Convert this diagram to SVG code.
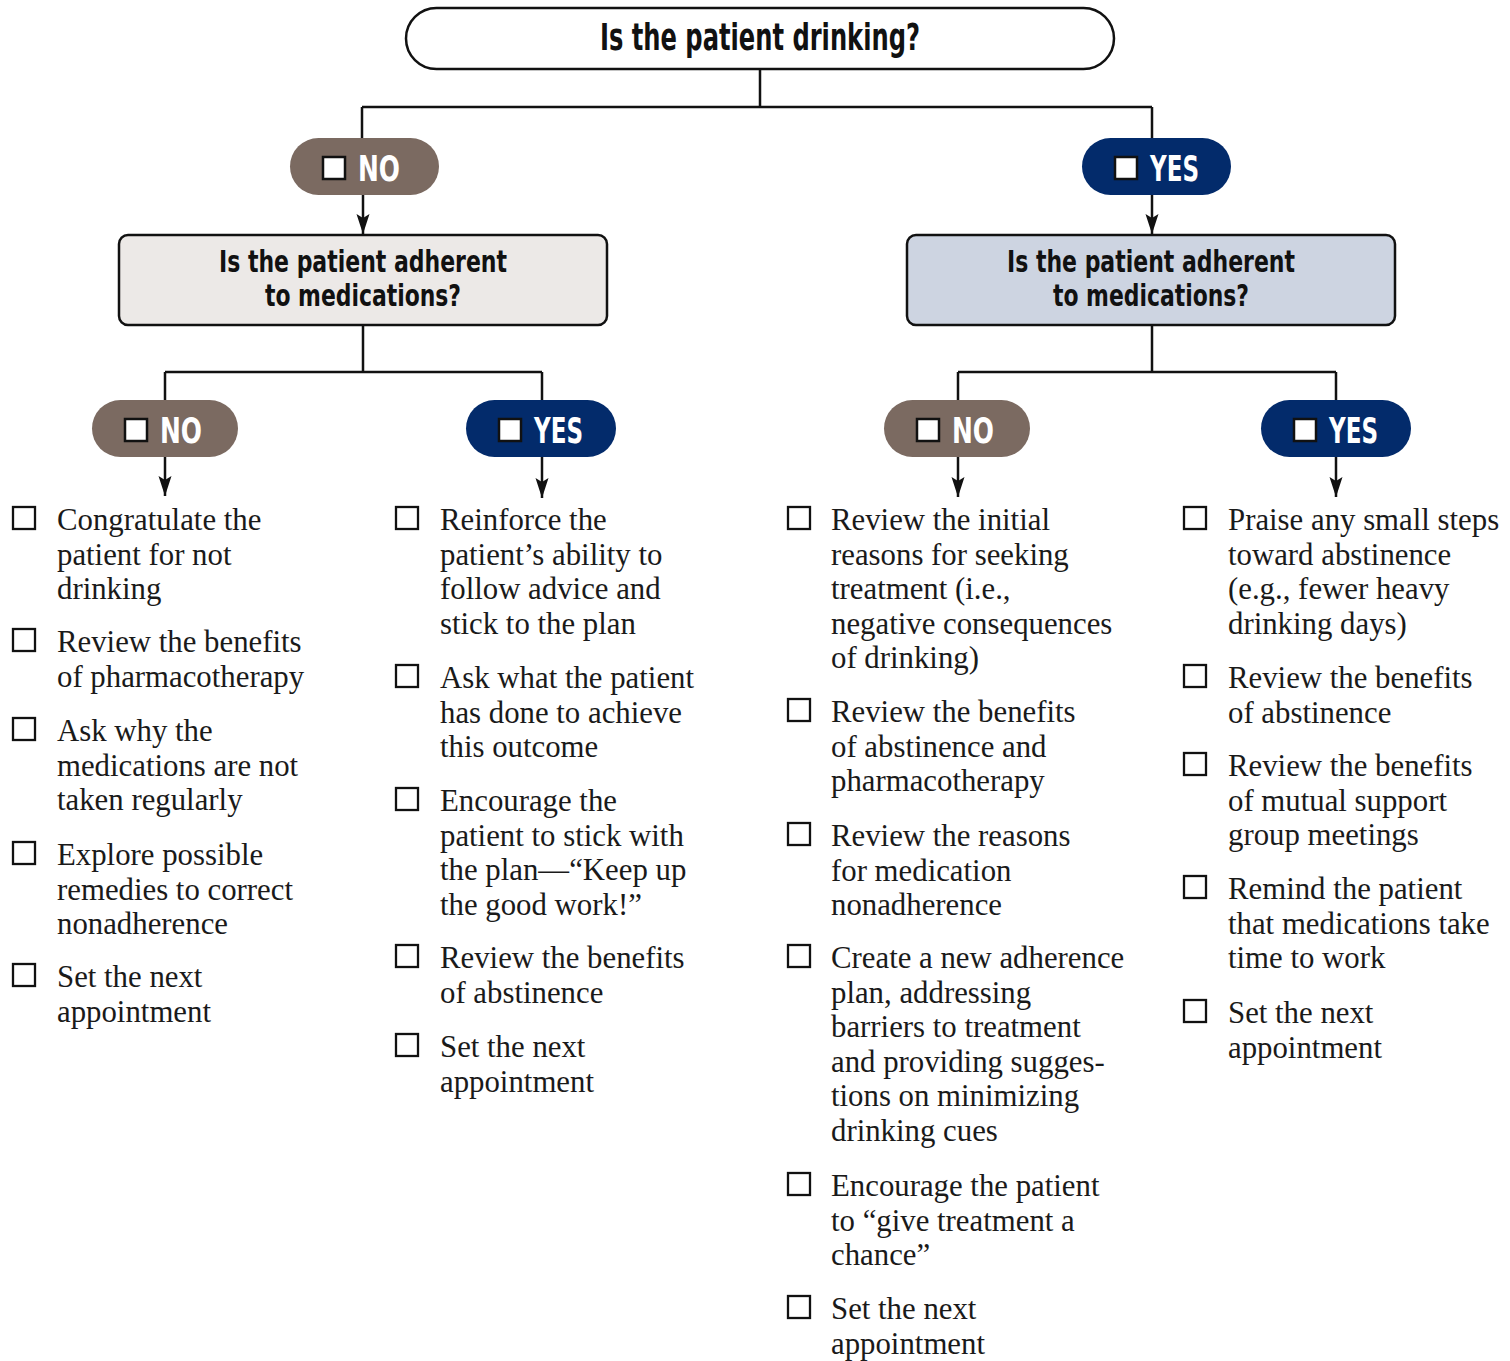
<svg xmlns="http://www.w3.org/2000/svg" width="1510" height="1361" viewBox="0 0 1510 1361">
<defs>
<style>
.q{fill:#fff;stroke:#111;stroke-width:2.5}
.qa{fill:#ece9e7;stroke:#111;stroke-width:2.5}
.qb{fill:#cdd4e1;stroke:#111;stroke-width:2.5}
.hd{font-family:"DejaVu Sans Condensed","DejaVu Sans","Liberation Sans",sans-serif;font-weight:bold;font-stretch:condensed;fill:#111}
.no{fill:#7b6a61}
.yes{fill:#032b6b}
.pt{font-family:"DejaVu Sans Condensed","DejaVu Sans","Liberation Sans",sans-serif;font-weight:bold;font-size:36px;fill:#fff}
.pcb{fill:#fff;stroke:#111;stroke-width:2.5}
.cb{fill:#fff;stroke:#111;stroke-width:2.3}
.bt{font-family:"Liberation Serif","Times New Roman",serif;font-size:30.8px;fill:#1a1a1a}
.ln{fill:none;stroke:#111;stroke-width:2.5}
</style>
<marker id="ah" markerWidth="22" markerHeight="16" viewBox="-20 -8 22 16" refX="0" refY="0" orient="auto" markerUnits="userSpaceOnUse">
<path d="M0,0 L-20,-6.5 L-16,0 L-20,6.5 Z" fill="#111"/>
</marker>
</defs>
<rect width="1510" height="1361" fill="#fff"/>

<g id="connectors">
<path class="ln" d="M760,69 V107 M362,107 H1152 M362,107 V138 M1152,107 V138"/>
<path class="ln" d="M363,195 V234" marker-end="url(#ah)"/>
<path class="ln" d="M1152,195 V234" marker-end="url(#ah)"/>
<path class="ln" d="M363,325 V372 M165,372 H542 M165,372 V400 M542,372 V400"/>
<path class="ln" d="M1152,325 V372 M958,372 H1336 M958,372 V400 M1336,372 V400"/>
<path class="ln" d="M165,457 V496" marker-end="url(#ah)"/>
<path class="ln" d="M542,457 V498" marker-end="url(#ah)"/>
<path class="ln" d="M958,457 V497" marker-end="url(#ah)"/>
<path class="ln" d="M1336,457 V497" marker-end="url(#ah)"/>
</g>

<g id="q-drinking">
<rect class="q" x="406" y="8" width="708" height="61" rx="30.5"/>
<text class="hd" x="760" y="50" font-size="38" text-anchor="middle" textLength="320" lengthAdjust="spacingAndGlyphs">Is the patient drinking?</text>
</g>

<g id="p-no-top">
<rect class="no" x="290" y="138" width="149" height="57" rx="28.5"/>
<rect class="pcb" x="323" y="157" width="22" height="22"/>
<text class="pt" x="358" y="181" textLength="42" lengthAdjust="spacingAndGlyphs">NO</text>
</g>

<g id="p-yes-top">
<rect class="yes" x="1082" y="138" width="149" height="57" rx="28.5"/>
<rect class="pcb" x="1115" y="157" width="22" height="22"/>
<text class="pt" x="1150" y="181" textLength="49" lengthAdjust="spacingAndGlyphs">YES</text>
</g>

<g id="q-adherent-no">
<rect class="qa" x="119" y="235" width="488" height="90" rx="9"/>
<text class="hd" x="363" y="272" font-size="31" text-anchor="middle" textLength="288" lengthAdjust="spacingAndGlyphs">Is the patient adherent</text>
<text class="hd" x="363" y="306" font-size="31" text-anchor="middle" textLength="196" lengthAdjust="spacingAndGlyphs">to medications?</text>
</g>

<g id="q-adherent-yes">
<rect class="qb" x="907" y="235" width="488" height="90" rx="9"/>
<text class="hd" x="1151" y="272" font-size="31" text-anchor="middle" textLength="288" lengthAdjust="spacingAndGlyphs">Is the patient adherent</text>
<text class="hd" x="1151" y="306" font-size="31" text-anchor="middle" textLength="196" lengthAdjust="spacingAndGlyphs">to medications?</text>
</g>

<g id="p-no-no">
<rect class="no" x="92" y="400" width="146" height="57" rx="28.5"/>
<rect class="pcb" x="125" y="419" width="22" height="22"/>
<text class="pt" x="160" y="443" textLength="42" lengthAdjust="spacingAndGlyphs">NO</text>
</g>

<g id="p-no-yes">
<rect class="yes" x="466" y="400" width="150" height="57" rx="28.5"/>
<rect class="pcb" x="499" y="419" width="22" height="22"/>
<text class="pt" x="534" y="443" textLength="49" lengthAdjust="spacingAndGlyphs">YES</text>
</g>

<g id="p-yes-no">
<rect class="no" x="884" y="400" width="146" height="57" rx="28.5"/>
<rect class="pcb" x="917" y="419" width="22" height="22"/>
<text class="pt" x="952" y="443" textLength="42" lengthAdjust="spacingAndGlyphs">NO</text>
</g>

<g id="p-yes-yes">
<rect class="yes" x="1261" y="400" width="150" height="57" rx="28.5"/>
<rect class="pcb" x="1294" y="419" width="22" height="22"/>
<text class="pt" x="1329" y="443" textLength="49" lengthAdjust="spacingAndGlyphs">YES</text>
</g>

<g id="list-no-no">
<rect class="cb" x="13" y="507" width="22" height="22"/>
<text class="bt" x="57" y="530">Congratulate the<tspan x="57" dy="34.6">patient for not</tspan><tspan x="57" dy="34.6">drinking</tspan></text>
<rect class="cb" x="13" y="629" width="22" height="22"/>
<text class="bt" x="57" y="652">Review the benefits<tspan x="57" dy="34.6">of pharmacotherapy</tspan></text>
<rect class="cb" x="13" y="718" width="22" height="22"/>
<text class="bt" x="57" y="741">Ask why the<tspan x="57" dy="34.6">medications are not</tspan><tspan x="57" dy="34.6">taken regularly</tspan></text>
<rect class="cb" x="13" y="842" width="22" height="22"/>
<text class="bt" x="57" y="865">Explore possible<tspan x="57" dy="34.6">remedies to correct</tspan><tspan x="57" dy="34.6">nonadherence</tspan></text>
<rect class="cb" x="13" y="964" width="22" height="22"/>
<text class="bt" x="57" y="987">Set the next<tspan x="57" dy="34.6">appointment</tspan></text>
</g>

<g id="list-no-yes">
<rect class="cb" x="396" y="507" width="22" height="22"/>
<text class="bt" x="440" y="530">Reinforce the<tspan x="440" dy="34.6">patient’s ability to</tspan><tspan x="440" dy="34.6">follow advice and</tspan><tspan x="440" dy="34.6">stick to the plan</tspan></text>
<rect class="cb" x="396" y="665" width="22" height="22"/>
<text class="bt" x="440" y="688">Ask what the patient<tspan x="440" dy="34.6">has done to achieve</tspan><tspan x="440" dy="34.6">this outcome</tspan></text>
<rect class="cb" x="396" y="788" width="22" height="22"/>
<text class="bt" x="440" y="811">Encourage the<tspan x="440" dy="34.6">patient to stick with</tspan><tspan x="440" dy="34.6">the plan—“Keep up</tspan><tspan x="440" dy="34.6">the good work!”</tspan></text>
<rect class="cb" x="396" y="945" width="22" height="22"/>
<text class="bt" x="440" y="968">Review the benefits<tspan x="440" dy="34.6">of abstinence</tspan></text>
<rect class="cb" x="396" y="1034" width="22" height="22"/>
<text class="bt" x="440" y="1057">Set the next<tspan x="440" dy="34.6">appointment</tspan></text>
</g>

<g id="list-yes-no">
<rect class="cb" x="788" y="507" width="22" height="22"/>
<text class="bt" x="831" y="530">Review the initial<tspan x="831" dy="34.6">reasons for seeking</tspan><tspan x="831" dy="34.6">treatment (i.e.,</tspan><tspan x="831" dy="34.6">negative consequences</tspan><tspan x="831" dy="34.6">of drinking)</tspan></text>
<rect class="cb" x="788" y="699" width="22" height="22"/>
<text class="bt" x="831" y="722">Review the benefits<tspan x="831" dy="34.6">of abstinence and</tspan><tspan x="831" dy="34.6">pharmacotherapy</tspan></text>
<rect class="cb" x="788" y="823" width="22" height="22"/>
<text class="bt" x="831" y="846">Review the reasons<tspan x="831" dy="34.6">for medication</tspan><tspan x="831" dy="34.6">nonadherence</tspan></text>
<rect class="cb" x="788" y="945" width="22" height="22"/>
<text class="bt" x="831" y="968">Create a new adherence<tspan x="831" dy="34.6">plan, addressing</tspan><tspan x="831" dy="34.6">barriers to treatment</tspan><tspan x="831" dy="34.6">and providing sugges-</tspan><tspan x="831" dy="34.6">tions on minimizing</tspan><tspan x="831" dy="34.6">drinking cues</tspan></text>
<rect class="cb" x="788" y="1173" width="22" height="22"/>
<text class="bt" x="831" y="1196">Encourage the patient<tspan x="831" dy="34.6">to “give treatment a</tspan><tspan x="831" dy="34.6">chance”</tspan></text>
<rect class="cb" x="788" y="1296" width="22" height="22"/>
<text class="bt" x="831" y="1319">Set the next<tspan x="831" dy="34.6">appointment</tspan></text>
</g>

<g id="list-yes-yes">
<rect class="cb" x="1184" y="507" width="22" height="22"/>
<text class="bt" x="1228" y="530">Praise any small steps<tspan x="1228" dy="34.6">toward abstinence</tspan><tspan x="1228" dy="34.6">(e.g., fewer heavy</tspan><tspan x="1228" dy="34.6">drinking days)</tspan></text>
<rect class="cb" x="1184" y="665" width="22" height="22"/>
<text class="bt" x="1228" y="688">Review the benefits<tspan x="1228" dy="34.6">of abstinence</tspan></text>
<rect class="cb" x="1184" y="753" width="22" height="22"/>
<text class="bt" x="1228" y="776">Review the benefits<tspan x="1228" dy="34.6">of mutual support</tspan><tspan x="1228" dy="34.6">group meetings</tspan></text>
<rect class="cb" x="1184" y="876" width="22" height="22"/>
<text class="bt" x="1228" y="899">Remind the patient<tspan x="1228" dy="34.6">that medications take</tspan><tspan x="1228" dy="34.6">time to work</tspan></text>
<rect class="cb" x="1184" y="1000" width="22" height="22"/>
<text class="bt" x="1228" y="1023">Set the next<tspan x="1228" dy="34.6">appointment</tspan></text>
</g>
</svg>
